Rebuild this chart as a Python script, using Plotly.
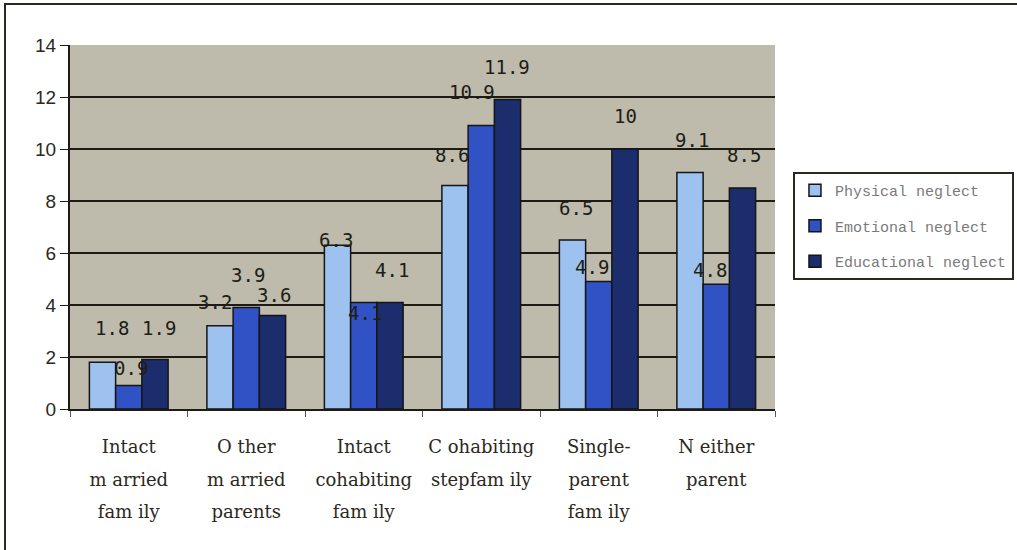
import plotly.graph_objects as go

# Family structure categories (x-axis) and neglect rates per 1,000 children
categories = [
    "Intact married family",
    "Other married parents",
    "Intact cohabiting family",
    "Cohabiting stepfamily",
    "Single-parent family",
    "Neither parent",
]
tick_lines = [
    ["Intact", "m arried", "fam ily"],
    ["O ther", "m arried", "parents"],
    ["Intact", "cohabiting", "fam ily"],
    ["C ohabiting", "stepfam ily"],
    ["Single-", "parent", "fam ily"],
    ["N either", "parent"],
]
series_names = ["Physical neglect", "Emotional neglect", "Educational neglect"]
physical = [1.8, 3.2, 6.3, 8.6, 6.5, 9.1]
emotional = [0.9, 3.9, 4.1, 10.9, 4.9, 4.8]
educational = [1.9, 3.6, 4.1, 11.9, 10.0, 8.5]
y_ticks = [0, 2, 4, 6, 8, 10, 12, 14]

series_values = [physical, emotional, educational]
colors = ["#9ec2ef", "#3152c4", "#1b2d6c"]

# Pixel nudges for the value labels (per series, per category): (dx, dy)
label_shift = [
    [(9, 34), (-5, 24), (-2, 5), (-3, 30), (3, 32), (2, 32)],
    [(2, 18), (2, 33), (1, -11), (-9, 34), (-7, 15), (-6, 14)],
    [(4, 32), (2, 20), (2, 32), (0, 33), (1, 33), (2, 33)],
]

fig = go.Figure()
for name, vals, col in zip(series_names, series_values, colors):
    fig.add_trace(go.Bar(
        x=categories, y=vals, name=name, legendgroup=name,
        marker=dict(color=col, line=dict(color="#151515", width=1.5)),
    ))

# Offsets of the three bars within a category, in category units
bargap = 0.33
bar_w = (1 - bargap) / 3
offsets = [-bar_w, 0.0, bar_w]

annotations = []
for s, vals in enumerate(series_values):
    for i, v in enumerate(vals):
        dx, dy = label_shift[s][i]
        annotations.append(dict(
            x=i + offsets[s], y=v, xref="x", yref="y",
            text=f"{v:g}", showarrow=False,
            xshift=dx, yshift=dy,
            font=dict(family="DejaVu Sans Mono", size=19, color="#201d15"),
        ))

# Tick labels: small glyphs inside a larger line box for wide line spacing
tick_text = [
    "<br>".join(f'<span style="font-size:18px">{ln}</span>' for ln in lines)
    for lines in tick_lines
]

fig.update_layout(
    width=1017, height=550,
    margin=dict(l=70, r=242, t=45, b=141, autoexpand=False),
    paper_bgcolor="white",
    plot_bgcolor="#bebbad",
    barmode="group", bargap=bargap, bargroupgap=0,
    annotations=annotations,
    showlegend=True,
    legend=dict(
        x=1.0255, y=0.651, xanchor="left", yanchor="top",
        bgcolor="white", bordercolor="#2b2820", borderwidth=2,
        font=dict(family="Liberation Mono", size=15, color="#7a7a7a"),
        traceorder="grouped", tracegroupgap=13,
    ),
    xaxis=dict(
        type="category", automargin=False,
        tickmode="array", tickvals=categories, ticktext=tick_text,
        tickangle=0, ticklabelstandoff=12,
        tickfont=dict(family="DejaVu Serif", size=25, color="#2b2820"),
        showline=True, linecolor="#1e1b14", linewidth=2,
        ticks="outside", tickson="boundaries", ticklen=6, tickcolor="#555",
        showgrid=False,
    ),
    yaxis=dict(
        range=[0, 14], tickvals=y_ticks, automargin=False,
        tickfont=dict(family="Liberation Sans", size=19, color="#2b2820"),
        showline=True, linecolor="#1e1b14", linewidth=2,
        ticks="outside", ticklen=8, tickcolor="#1e1b14",
        showgrid=True, gridcolor="#1e1b14", gridwidth=1.5,
        zeroline=False,
    ),
    shapes=[dict(
        type="rect", xref="paper", yref="paper",
        x0=(5 - 70) / 705, x1=(1030 - 70) / 705,
        y0=(409 - 570) / 364, y1=(409 - 4) / 364,
        line=dict(color="#2b2820", width=2), fillcolor="rgba(0,0,0,0)",
        layer="below",
    )],
)

fig.write_html("out.html")
